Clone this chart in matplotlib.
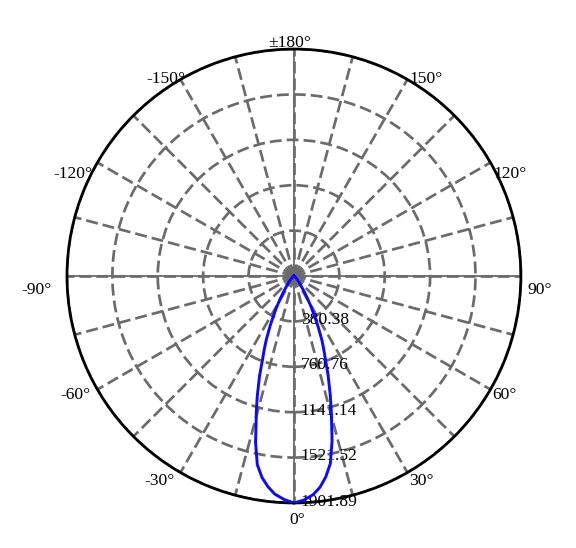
import numpy as np
import matplotlib.pyplot as plt

plt.rcParams['font.family'] = ['Liberation Serif', 'DejaVu Serif']

# luminous intensity (cd), C0-C180 plane
ang_right = [0, 2.5, 5, 7, 9, 11, 13, 14, 15.5, 17, 19, 20.5, 22, 23.5, 25.5,
             27, 29, 31, 33, 36, 40, 45, 50, 60, 90, 180]
cd_right = [1901.89, 1880, 1840, 1785, 1705, 1600, 1420, 1310, 1170, 1040, 880,
            760, 670, 590, 470, 390, 300, 220, 160, 100, 60, 30, 15, 5, 0, 0]
ang_left = [2.5, 5, 7, 9, 11, 13, 14, 15.5, 17, 19, 20.5, 22, 23.5, 25.5,
            27, 29, 31, 33, 36, 40, 45, 50, 60, 90, 180]
cd_left = [1875, 1835, 1780, 1710, 1610, 1430, 1315, 1180, 1050, 885,
           755, 665, 580, 465, 385, 300, 225, 165, 105, 60, 30, 15, 5, 0, 0]

ring_vals = [380.38, 760.76, 1141.14, 1521.52, 1901.89]
ring_txt = ['380.38', '760.76', '1141.14', '1521.52', '1901.89']
tick_deg = [0, 30, 60, 90, 120, 150, 180, 210, 240, 270, 300, 330]
tick_txt = ['0°', '30°', '60°', '90°', '120°', '150°', '±180°',
            '-150°', '-120°', '-90°', '-60°', '-30°']

rmax = ring_vals[-1]
grid_col = '#6b6b6b'
px = 0.72  # points per pixel at 100 dpi

theta = np.deg2rad(np.concatenate([-np.array(ang_left[::-1]), ang_right]))
r = np.concatenate([cd_left[::-1], cd_right])

fig = plt.figure(figsize=(5.76, 5.48), dpi=100)
ax = fig.add_axes([0.1163, 0.0821, 0.788, 0.8285], projection='polar')
ax.set_theta_zero_location('S')
ax.set_theta_direction(1)
ax.set_ylim(0, rmax)

ax.set_xticks(np.deg2rad(np.arange(0, 360, 15)))
ax.set_xticklabels([])
ax.set_yticks(ring_vals)
ax.set_yticklabels([])
ax.grid(True, color=grid_col, linewidth=1.95, linestyle=(0, (4.4, 1.85)))
ax.spines['polar'].set_color('black')
ax.spines['polar'].set_linewidth(2.0)

# solid axes through the centre
for a in [0, 90, 180, 270]:
    ax.plot([np.deg2rad(a)] * 2, [0, rmax], color=grid_col, lw=1.3, zorder=1)
ax.plot([0], [0], 'o', color=grid_col, ms=9, zorder=2)

ax.plot(theta, r, color='#0a0aff', lw=2.1, zorder=5)

# label nudges in pixels (x right, baseline below the rim point)
lab_dx = [3, 1.5, 1.5, 6, 2.5, 2.5, -4, 4.5, -5.5, -15, -6.5, -5.5]
lab_base = [21, 12, 9.5, 18, 15.5, 3.5, -2, 3.5, 15.5, 18, 9.5, 12]
for t, txt, ddx, dbase in zip(tick_deg, tick_txt, lab_dx, lab_base):
    a = np.deg2rad(t)
    s = np.sin(a)
    ha = 'left' if s > 0.1 else ('right' if s < -0.1 else 'center')
    ax.annotate(txt, xy=(a, rmax), xytext=(ddx * px, -dbase * px),
                textcoords='offset points', ha=ha, va='baseline',
                fontsize=12.6, annotation_clip=False)

for rv, txt in zip(ring_vals, ring_txt):
    ax.annotate(txt, xy=(0, rv), xytext=(4.8, 1), textcoords='offset points',
                ha='left', va='center', fontsize=12.6, zorder=3)

fig.savefig('out.png', dpi=100)
